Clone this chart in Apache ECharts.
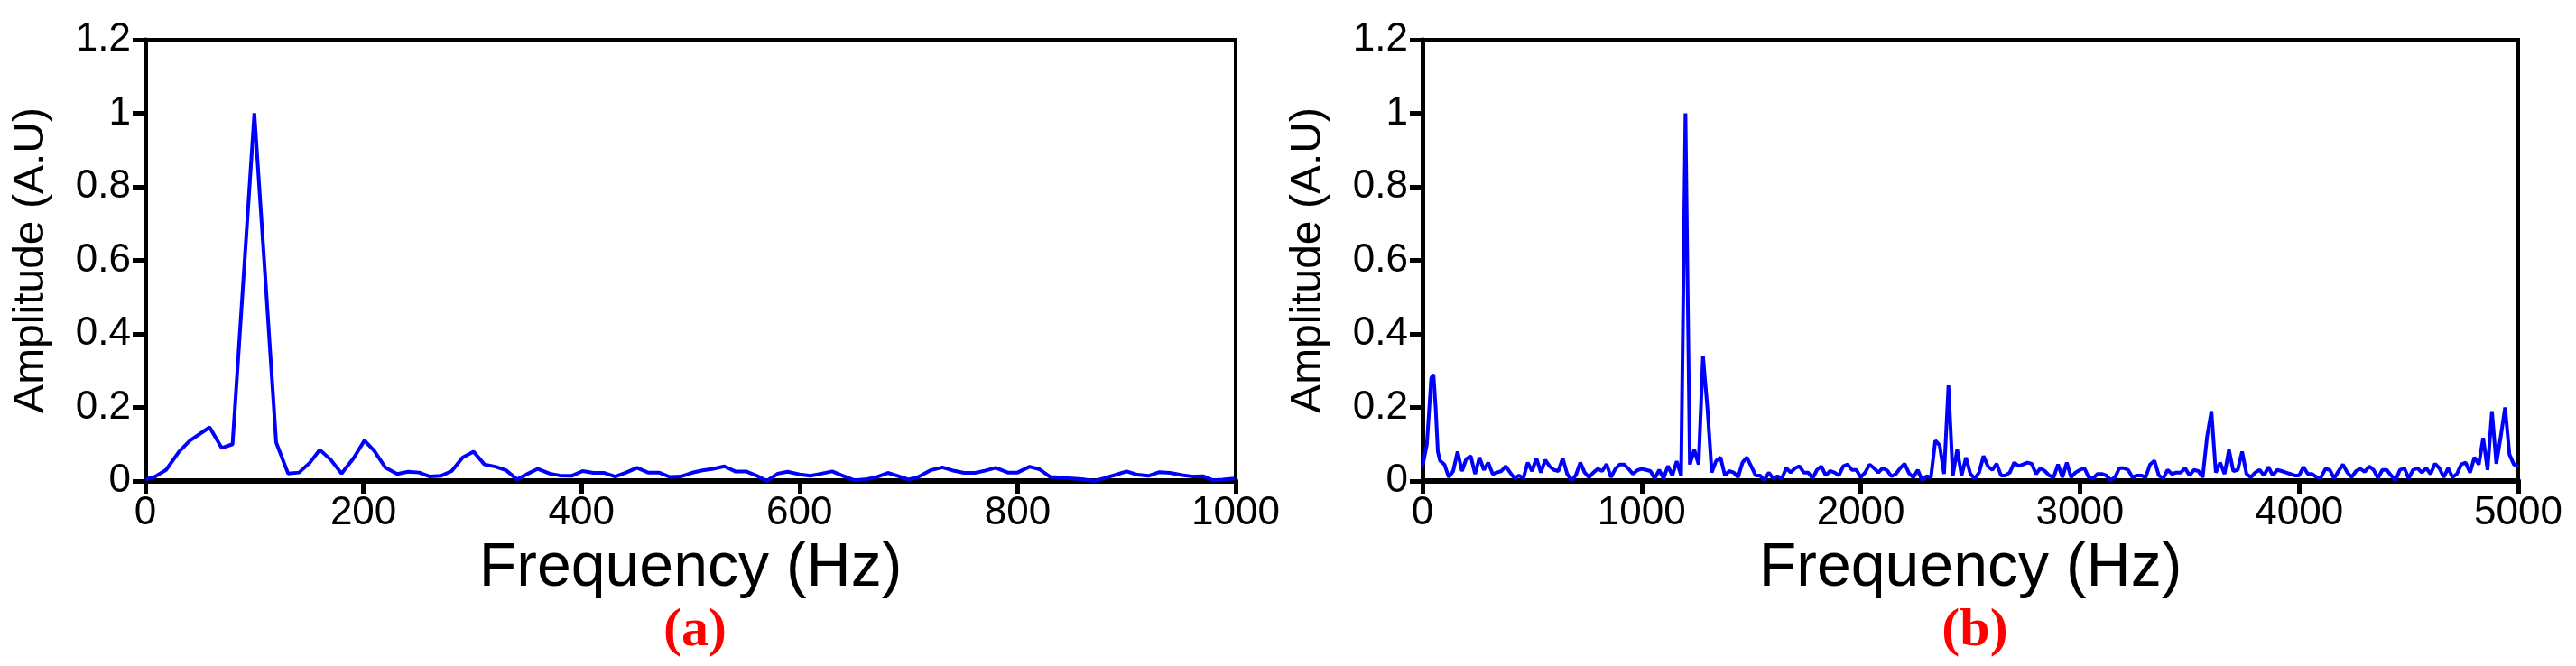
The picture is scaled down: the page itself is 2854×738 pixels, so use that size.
<!DOCTYPE html>
<html>
<head>
<meta charset="utf-8">
<script src="https://cdn.jsdelivr.net/npm/echarts@6/dist/echarts.min.js"></script>
<style>
  html, body { margin: 0; padding: 0; background: #fff; }
  #main { width: 2854px; height: 738px; }
</style>
</head>
<body>
<div id="main"></div>
<script>
// (a) spectrum 0-1000 Hz
var freqA = [0, 9, 19, 31, 41, 59, 70, 80, 100, 109, 120, 131, 141, 151, 160, 170, 180, 191, 201, 210,
  220, 231, 241, 251, 261, 271, 281, 291, 301, 311, 321, 331, 341, 351, 360, 371, 380, 391, 401, 411,
  421, 431, 441, 451, 461, 471, 481, 491, 501, 511, 521, 531, 541, 551, 561, 570, 580, 589, 600, 610,
  620, 630, 640, 650, 660, 669, 681, 690, 700, 709, 720, 731, 740, 751, 761, 770, 780, 791, 800, 811,
  820, 830, 841, 850, 859, 870, 879, 889, 900, 910, 920, 930, 940, 951, 961, 970, 979, 988, 999];
var ampA = [0.004, 0.012, 0.03, 0.08, 0.11, 0.146, 0.09, 0.1, 1.0, 0.6, 0.105, 0.02, 0.023, 0.05, 0.085, 0.058, 0.02, 0.062, 0.11, 0.082,
  0.037, 0.019, 0.025, 0.023, 0.012, 0.014, 0.027, 0.064, 0.08, 0.045, 0.039, 0.029, 0.004, 0.02, 0.033, 0.02, 0.015, 0.014, 0.027, 0.022,
  0.022, 0.012, 0.023, 0.036, 0.023, 0.023, 0.011, 0.012, 0.022, 0.029, 0.033, 0.04, 0.026, 0.026, 0.014, 0.0, 0.02, 0.025, 0.018, 0.014,
  0.02, 0.026, 0.014, 0.002, 0.004, 0.009, 0.022, 0.014, 0.004, 0.011, 0.029, 0.037, 0.029, 0.022, 0.022, 0.028, 0.036, 0.023, 0.023, 0.039,
  0.032, 0.011, 0.009, 0.007, 0.005, 0.0, 0.007, 0.016, 0.026, 0.017, 0.014, 0.024, 0.022, 0.016, 0.012, 0.013, 0.002, 0.004, 0.007];

// (b) spectrum 0-5000 Hz, sampled every 20 Hz (plus peak tops)
var freqB = [0, 20, 40, 50, 60, 70, 80, 100, 120, 140, 160, 180, 200, 220, 240, 260, 280, 300, 320, 340,
  360, 380, 400, 420, 440, 460, 480, 500, 520, 540, 560, 580, 600, 620, 640, 660, 680, 700, 720, 740,
  760, 780, 800, 820, 840, 860, 880, 900, 920, 940, 960, 980, 1000, 1020, 1040, 1060, 1080, 1100, 1120, 1140,
  1160, 1180, 1200, 1220, 1240, 1260, 1280, 1300, 1320, 1340, 1360, 1380, 1400, 1420, 1440, 1460, 1480, 1500, 1520, 1540,
  1560, 1580, 1600, 1620, 1640, 1660, 1680, 1700, 1720, 1740, 1760, 1780, 1800, 1820, 1840, 1860, 1880, 1900, 1920, 1940,
  1960, 1980, 2000, 2020, 2040, 2060, 2080, 2100, 2120, 2140, 2160, 2180, 2200, 2220, 2240, 2260, 2280, 2300, 2320, 2340,
  2360, 2380, 2400, 2420, 2440, 2460, 2480, 2500, 2520, 2540, 2560, 2580, 2600, 2620, 2640, 2660, 2680, 2700, 2720, 2740,
  2760, 2780, 2800, 2820, 2840, 2860, 2880, 2900, 2920, 2940, 2960, 2980, 3000, 3020, 3040, 3060, 3080, 3100, 3120, 3140,
  3160, 3180, 3200, 3220, 3240, 3260, 3280, 3300, 3320, 3340, 3360, 3380, 3400, 3420, 3440, 3460, 3480, 3500, 3520, 3540,
  3560, 3580, 3600, 3620, 3640, 3660, 3680, 3700, 3720, 3740, 3760, 3780, 3800, 3820, 3840, 3860, 3880, 3900, 3920, 3940,
  3960, 3980, 4000, 4020, 4040, 4060, 4080, 4100, 4120, 4140, 4160, 4180, 4200, 4220, 4240, 4260, 4280, 4300, 4320, 4340,
  4360, 4380, 4400, 4420, 4440, 4460, 4480, 4500, 4520, 4540, 4560, 4580, 4600, 4620, 4640, 4660, 4680, 4700, 4720, 4740,
  4760, 4780, 4800, 4820, 4840, 4860, 4880, 4900, 4920, 4940, 4960, 4980, 5000];
var ampB = [0.04, 0.1, 0.28, 0.29, 0.2, 0.08, 0.055, 0.045, 0.01, 0.027, 0.08, 0.027, 0.06, 0.068, 0.019, 0.064, 0.03, 0.05, 0.019, 0.023,
  0.027, 0.04, 0.023, 0.007, 0.015, 0.007, 0.05, 0.027, 0.062, 0.023, 0.057, 0.04, 0.03, 0.027, 0.062, 0.019, 0.002, 0.016, 0.05, 0.023,
  0.01, 0.023, 0.033, 0.027, 0.046, 0.01, 0.033, 0.045, 0.045, 0.033, 0.019, 0.029, 0.033, 0.03, 0.027, 0.007, 0.03, 0.007, 0.041, 0.015,
  0.054, 0.015, 1.0, 0.045, 0.085, 0.045, 0.34, 0.2, 0.023, 0.055, 0.064, 0.015, 0.027, 0.023, 0.01, 0.05, 0.064, 0.04, 0.015, 0.015,
  0.002, 0.023, 0.007, 0.013, 0.007, 0.035, 0.023, 0.035, 0.04, 0.023, 0.023, 0.007, 0.03, 0.04, 0.015, 0.027, 0.023, 0.015, 0.04, 0.045,
  0.03, 0.03, 0.01, 0.023, 0.045, 0.035, 0.023, 0.035, 0.029, 0.013, 0.019, 0.035, 0.047, 0.021, 0.01, 0.03, 0.002, 0.013, 0.01, 0.11,
  0.097, 0.019, 0.26, 0.015, 0.085, 0.015, 0.064, 0.019, 0.007, 0.023, 0.068, 0.04, 0.03, 0.047, 0.015, 0.015, 0.023, 0.05, 0.041, 0.045,
  0.05, 0.047, 0.019, 0.035, 0.027, 0.015, 0.01, 0.045, 0.01, 0.05, 0.01, 0.023, 0.03, 0.035, 0.01, 0.007, 0.019, 0.019, 0.015, 0.002,
  0.01, 0.035, 0.035, 0.03, 0.01, 0.015, 0.015, 0.01, 0.045, 0.055, 0.015, 0.007, 0.03, 0.019, 0.023, 0.023, 0.035, 0.015, 0.03, 0.027,
  0.01, 0.12, 0.19, 0.023, 0.05, 0.019, 0.085, 0.027, 0.03, 0.08, 0.019, 0.01, 0.023, 0.03, 0.015, 0.038, 0.015, 0.03, 0.027, 0.023,
  0.019, 0.015, 0.015, 0.038, 0.019, 0.019, 0.01, 0.01, 0.033, 0.03, 0.007, 0.027, 0.045, 0.023, 0.01, 0.027, 0.033, 0.025, 0.04, 0.03,
  0.008, 0.03, 0.03, 0.015, 0.002, 0.03, 0.035, 0.007, 0.03, 0.035, 0.023, 0.035, 0.019, 0.047, 0.035, 0.01, 0.035, 0.01, 0.019, 0.045,
  0.05, 0.023, 0.064, 0.045, 0.117, 0.03, 0.19, 0.047, 0.12, 0.2, 0.072, 0.045, 0.04];

var yTicks = [0, 0.2, 0.4, 0.6, 0.8, 1, 1.2];

function pairs(xs, ys) {
    var out = [];
    for (var i = 0; i < xs.length; i++) out.push([xs[i], ys[i]]);
    return out;
}

var myChart = echarts.init(document.getElementById('main'));
var font = 'Liberation Sans, Arial, sans-serif';

function xAxisOf(idx, max, interval) {
    return {
        gridIndex: idx, type: 'value', min: 0, max: max, interval: interval,
        name: 'Frequency (Hz)', nameLocation: 'middle', nameGap: 60,
        nameTextStyle: { fontSize: 68, fontFamily: font, color: '#000' },
        axisLine: { lineStyle: { color: '#000', width: 6 } },
        axisTick: { length: 14, lineStyle: { color: '#000', width: 5 } },
        axisLabel: { fontSize: 44, fontFamily: font, color: '#000', margin: 14,
            formatter: function (v) { return String(v); } },
        splitLine: { show: false }
    };
}
function yAxisOf(idx) {
    return {
        gridIndex: idx, type: 'value', min: 0, max: 1.2, interval: 0.2,
        name: 'Amplitude (A.U)', nameLocation: 'middle', nameGap: 102,
        nameTextStyle: { fontSize: 48, fontFamily: font, color: '#000' },
        axisLine: { show: true, lineStyle: { color: '#000', width: 5 } },
        axisTick: { show: true, length: 14, lineStyle: { color: '#000', width: 5 } },
        axisLabel: { fontSize: 44, fontFamily: font, color: '#000', margin: 16,
            formatter: function (v) { return yTicks.indexOf(+v.toFixed(1)) >= 0 ? String(+v.toFixed(1)) : ''; } },
        splitLine: { show: false }
    };
}

var option = {
    animation: false,
    backgroundColor: '#fff',
    title: [
        { text: '(a)', left: 765, top: 664, textAlign: 'center',
          textStyle: { color: '#ff0000', fontSize: 60, fontWeight: 'bold', fontFamily: 'Liberation Serif, Times New Roman, serif' } },
        { text: '(b)', left: 2183, top: 664, textAlign: 'center',
          textStyle: { color: '#ff0000', fontSize: 60, fontWeight: 'bold', fontFamily: 'Liberation Serif, Times New Roman, serif' } }
    ],
    grid: [
        { left: 161, right: 1485, top: 44, bottom: 205, show: true, borderColor: '#000', borderWidth: 4 },
        { left: 1576, right: 64, top: 44, bottom: 205, show: true, borderColor: '#000', borderWidth: 4 }
    ],
    xAxis: [xAxisOf(0, 1000, 200), xAxisOf(1, 5000, 1000)],
    yAxis: [yAxisOf(0), yAxisOf(1)],
    series: [
        { type: 'line', xAxisIndex: 0, yAxisIndex: 0, data: pairs(freqA, ampA), showSymbol: false,
          lineStyle: { color: '#0000ff', width: 4 } },
        { type: 'line', xAxisIndex: 1, yAxisIndex: 1, data: pairs(freqB, ampB), showSymbol: false,
          lineStyle: { color: '#0000ff', width: 4 } }
    ]
};
myChart.setOption(option);
</script>
</body>
</html>
